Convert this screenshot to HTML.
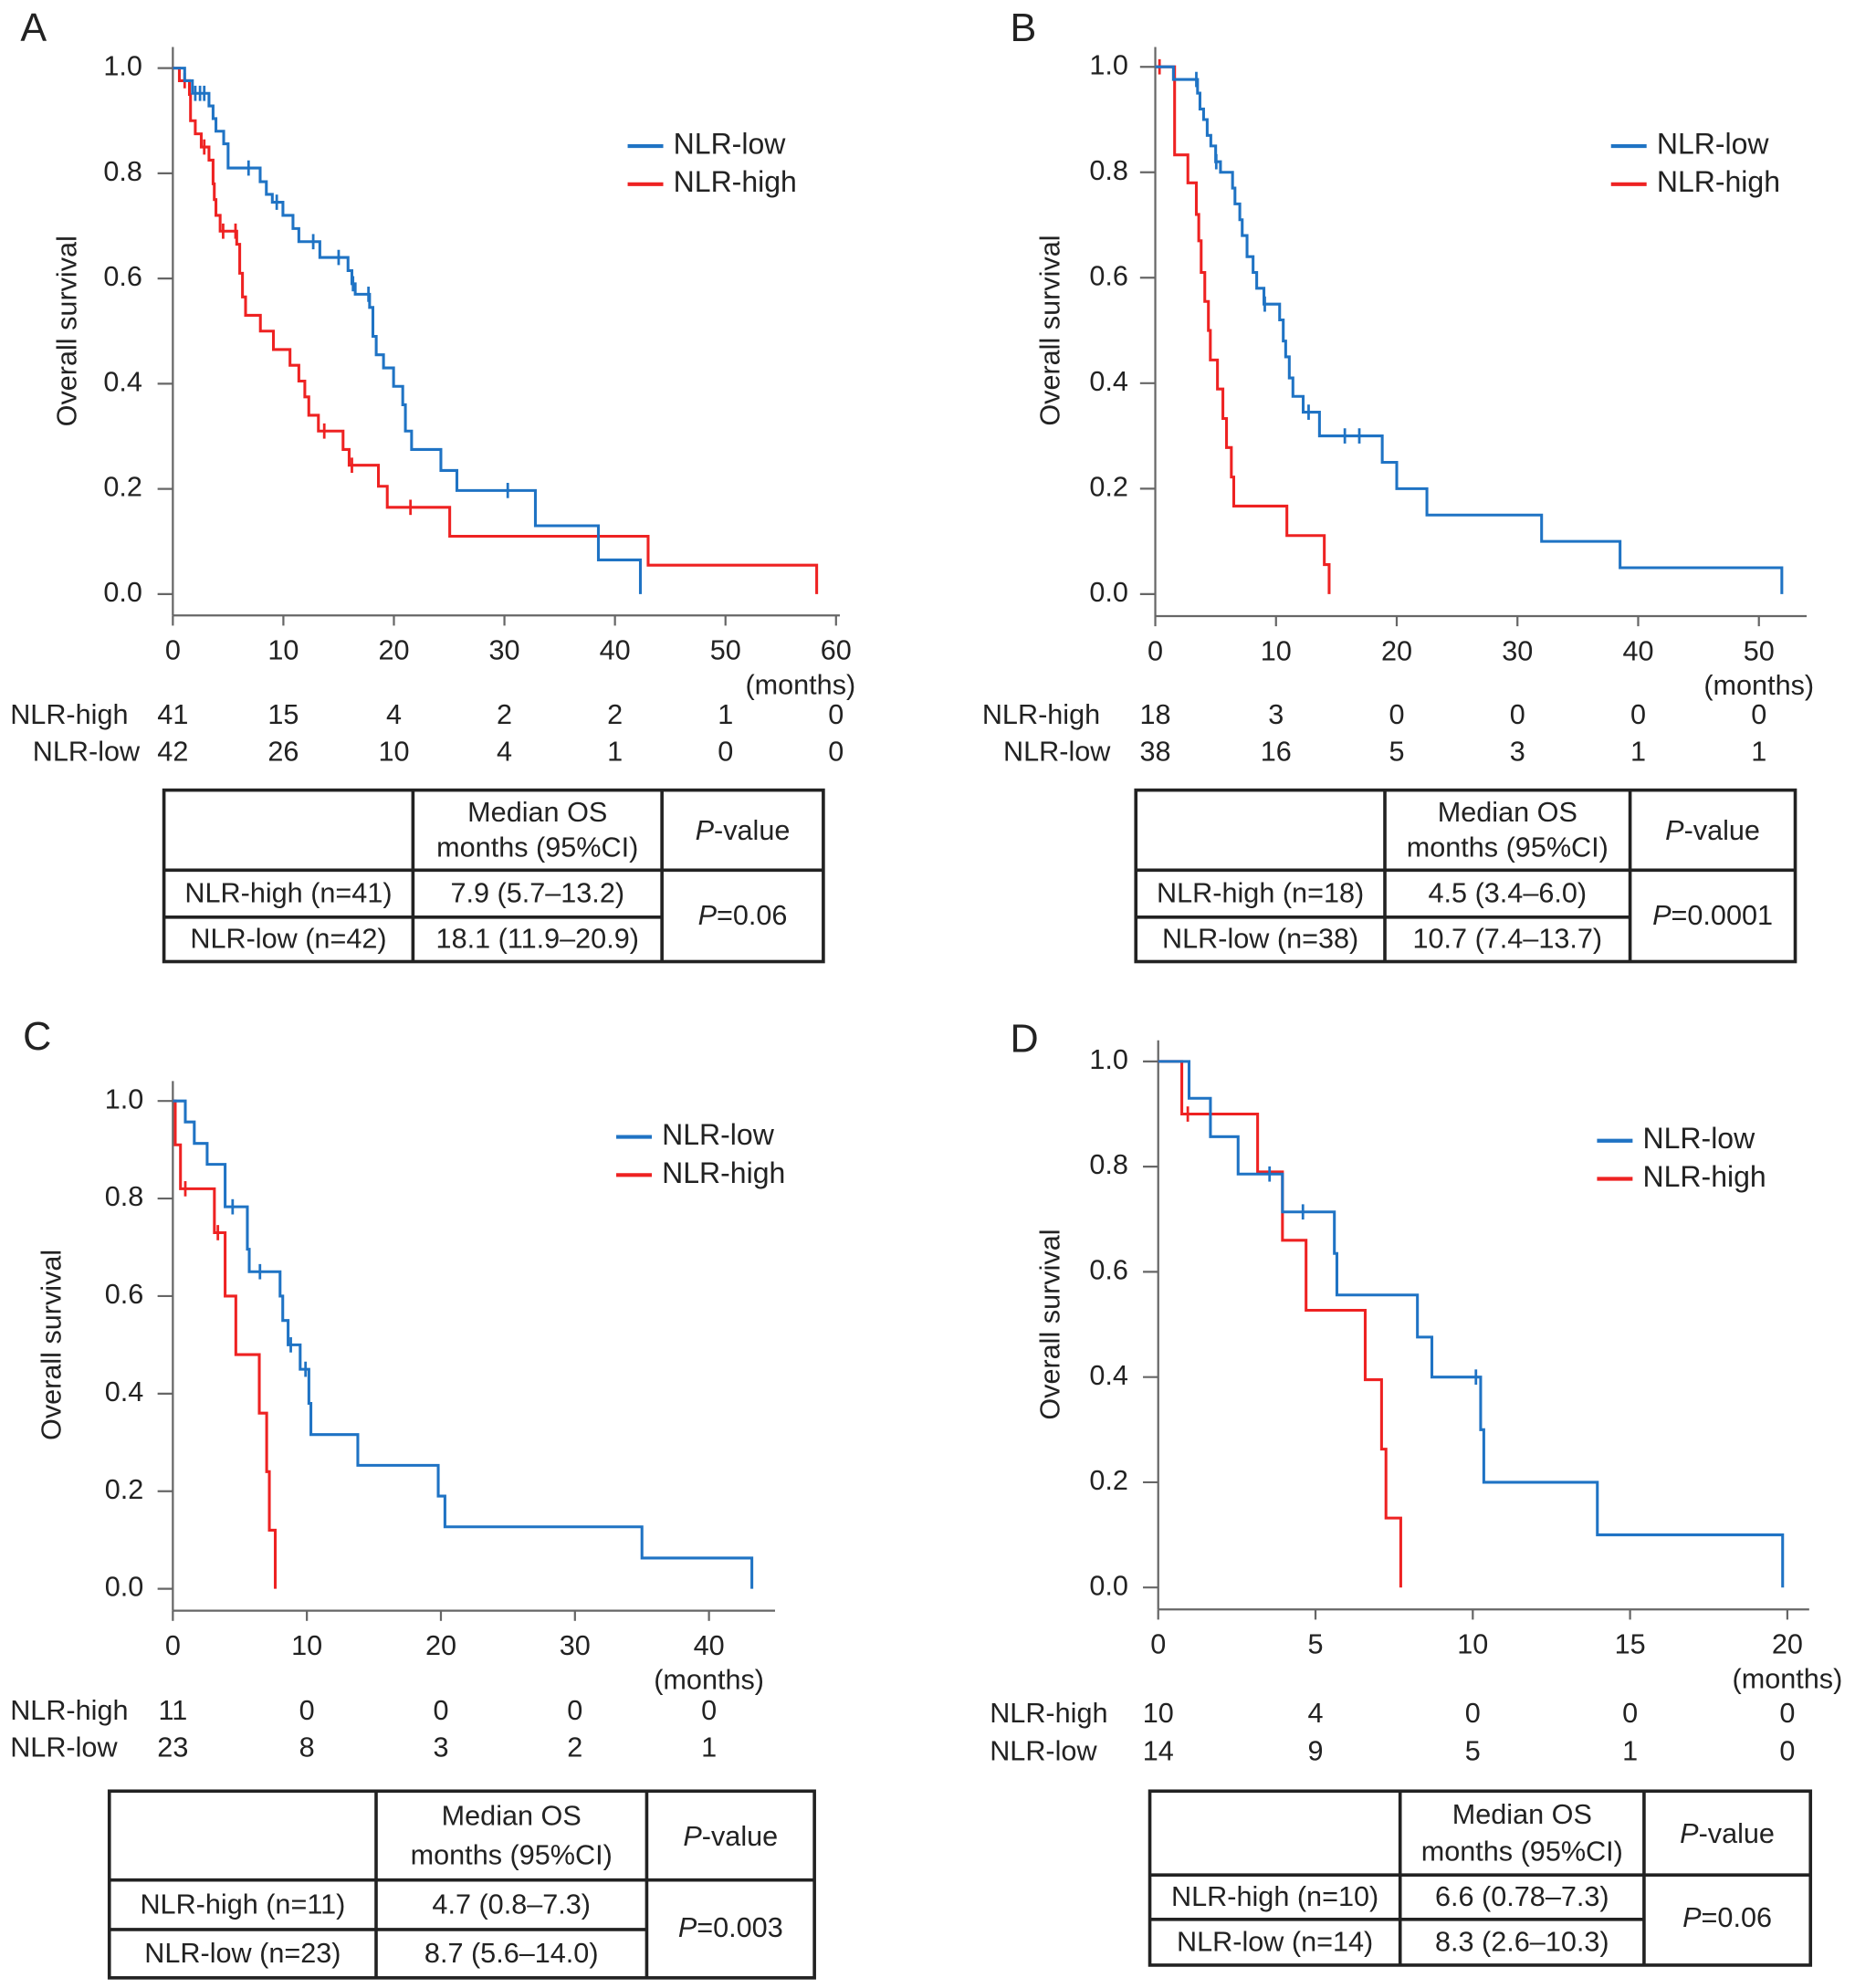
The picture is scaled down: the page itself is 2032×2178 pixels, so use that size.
<!DOCTYPE html>
<html><head><meta charset="utf-8">
<style>
html,body{margin:0;padding:0;background:#fff;}
svg{display:block;}
text{font-family:"Liberation Sans",Arial,sans-serif;fill:#222;}
</style></head>
<body>
<svg id="fig" xmlns="http://www.w3.org/2000/svg" width="2032" height="2178" viewBox="0 0 1460 1565"></svg>
<script>
// ---------- Panel A data ----------
const aLowT  = [1.07,1.77,3.27,3.64,3.9,4.6,5.0,7.9,8.46,9.0,9.96,10.87,11.4,13.3,15.85,16.2,16.5,17.8,18.1,18.4,19.06,19.97,20.8,21.04,21.6,24.25,25.7,32.8,38.5,42.3];
const aLowS  = [0.976,0.952,0.928,0.904,0.88,0.856,0.81,0.784,0.76,0.745,0.72,0.695,0.67,0.64,0.615,0.59,0.57,0.545,0.49,0.455,0.43,0.395,0.36,0.31,0.275,0.235,0.197,0.13,0.065,0];
const aLowC  = [2.03,2.46,2.84,6.85,9.4,12.7,15.0,16.3,17.7,30.3];
const aHighT = [0.59,1.5,1.6,2.03,2.57,3.27,3.64,3.75,3.9,4.28,5.78,6.05,6.3,6.58,7.92,9.1,10.6,11.4,11.94,12.3,13.17,15.4,15.95,18.6,19.4,25.05,43.0,58.25];
const aHighS = [0.976,0.95,0.9,0.875,0.85,0.825,0.78,0.75,0.72,0.69,0.665,0.61,0.565,0.53,0.5,0.465,0.435,0.405,0.375,0.34,0.31,0.275,0.245,0.205,0.165,0.11,0.055,0];
const aHighC = [1.07,2.84,4.55,5.67,13.7,16.2,21.5];
const aTicks = [0,10,20,30,40,50,60];
const aRiskHigh = ["41","15","4","2","2","1","0"];
const aRiskLow  = ["42","26","10","4","1","0","0"];
const aTable = ["NLR-high (n=41)","7.9 (5.7–13.2)","NLR-low (n=42)","18.1 (11.9–20.9)","0.06"];
// ---------- Panel B data ----------
const bLowT  = [1.5,3.5,3.7,4.0,4.3,4.6,5.0,5.4,6.4,6.6,7.0,7.2,7.6,8.1,8.4,9.0,10.3,10.6,10.8,11.1,11.4,12.25,13.6,18.8,20.0,22.5,32.0,38.5,51.9];
const bLowS  = [0.976,0.95,0.92,0.90,0.87,0.85,0.82,0.80,0.77,0.74,0.71,0.68,0.64,0.61,0.58,0.55,0.52,0.48,0.45,0.41,0.375,0.345,0.30,0.25,0.20,0.15,0.10,0.05,0];
const bLowC  = [3.4,5.05,9.07,12.7,15.7,16.9];
const bHighT = [1.6,2.7,3.4,3.6,3.8,4.1,4.4,4.56,5.15,5.6,5.9,6.3,6.5,10.9,14.0,14.4];
const bHighS = [0.833,0.78,0.72,0.67,0.61,0.555,0.50,0.444,0.389,0.333,0.278,0.222,0.167,0.111,0.056,0];
const bHighC = [0.35];
const bTicks = [0,10,20,30,40,50];
const bRiskHigh = ["18","3","0","0","0","0"];
const bRiskLow  = ["38","16","5","3","1","1"];
const bTable = ["NLR-high (n=18)","4.5 (3.4–6.0)","NLR-low (n=38)","10.7 (7.4–13.7)","0.0001"];
// ---------- Panel C data ----------
const cLowT  = [0.93,1.6,2.56,3.9,5.56,5.7,8.0,8.2,8.6,9.5,10.15,10.3,13.8,19.8,20.3,35.0,43.2];
const cLowS  = [0.957,0.913,0.87,0.783,0.696,0.65,0.60,0.55,0.50,0.45,0.38,0.316,0.253,0.19,0.127,0.063,0];
const cLowC  = [4.46,6.5,8.8,9.9];
const cHighT = [0.18,0.57,3.1,3.9,4.7,6.45,7.0,7.2,7.64];
const cHighS = [0.91,0.82,0.73,0.60,0.48,0.36,0.24,0.12,0];
const cHighC = [0.93,3.36];
const cTicks = [0,10,20,30,40];
const cRiskHigh = ["11","0","0","0","0"];
const cRiskLow  = ["23","8","3","2","1"];
const cTable = ["NLR-high (n=11)","4.7 (0.8–7.3)","NLR-low (n=23)","8.7 (5.6–14.0)","0.003"];
// ---------- Panel D data ----------
const dLowT  = [0.98,1.66,2.54,3.95,5.6,5.68,8.24,8.7,10.25,10.35,13.96,19.85];
const dLowS  = [0.93,0.857,0.786,0.714,0.635,0.556,0.476,0.40,0.30,0.20,0.10,0];
const dLowC  = [3.54,4.6,10.1];
const dHighT = [0.75,3.16,3.95,4.7,6.58,7.1,7.24,7.71];
const dHighS = [0.90,0.79,0.66,0.527,0.395,0.263,0.132,0];
const dHighC = [0.94];
const dTicks = [0,5,10,15,20];
const dRiskHigh = ["10","4","0","0","0"];
const dRiskLow  = ["14","9","5","1","0"];
const dTable = ["NLR-high (n=10)","6.6 (0.78–7.3)","NLR-low (n=14)","8.3 (2.6–10.3)","0.06"];
const yTicks = [0,0.2,0.4,0.6,0.8,1.0];

const NS="http://www.w3.org/2000/svg";
const svg=document.getElementById('fig');
const BLUE="#1f73c4", RED="#ee2222";
function mk(tag,attrs,parent,txt){const e=document.createElementNS(NS,tag);for(const k in attrs)e.setAttribute(k,attrs[k]);if(txt!==undefined)e.textContent=txt;(parent||svg).appendChild(e);return e;}
function stepAt(T,S,t){let s=1;for(let i=0;i<T.length;i++){if(T[i]<=t)s=S[i];}return s;}

function panel(p){
  const g=mk('g',{});
  
  
  const xs=t=>p.x0+(t-p.ticks[0])*(p.x1-p.x0)/(p.ticks[p.ticks.length-1]-p.ticks[0]);
  const ys=s=>p.y0+(1-s)*(p.yZero-p.y0);
  const L=mk('text',{x:p.lx,y:p.ly,'font-size':31,'dominant-baseline':'middle'},g,p.id);
  
  const ya=mk('line',{x1:p.x0,y1:p.axTop,x2:p.x0,y2:p.axY,stroke:'#666','stroke-width':1.6},g);
  
  const xa=mk('line',{x1:p.x0,y1:p.axY,x2:p.axRight,y2:p.axY,stroke:'#666','stroke-width':1.6},g);
  
  yTicks.forEach(v=>{
    mk('line',{x1:p.x0-12,y1:ys(v),x2:p.x0,y2:ys(v),stroke:'#666','stroke-width':1.6},g);
    const t=mk('text',{x:p.yLabX,y:ys(v),'font-size':22,'text-anchor':'end','dominant-baseline':'middle'},g,v.toFixed(1));
    
  });
  p.ticks.forEach((v,i)=>{
    mk('line',{x1:xs(v),y1:p.axY,x2:xs(v),y2:p.axY+8,stroke:'#666','stroke-width':1.6},g);
    const t=mk('text',{x:xs(v),y:p.axY+29,'font-size':22,'text-anchor':'middle','dominant-baseline':'middle'},g,String(v));
    
    const r1=mk('text',{x:xs(v),y:p.r1,'font-size':22,'text-anchor':'middle','dominant-baseline':'middle'},g,p.riskHigh[i]);
    
    const r2=mk('text',{x:xs(v),y:p.r2,'font-size':22,'text-anchor':'middle','dominant-baseline':'middle'},g,p.riskLow[i]);
    
  });
  const mo=mk('text',{x:xs(p.ticks[p.ticks.length-1])-(p.moShift||0),y:p.axY+56,'font-size':22,'text-anchor':'middle','dominant-baseline':'middle'},g,'(months)');
  
  const rl1=mk('text',{x:p.rlX,y:p.r1,'font-size':22,'text-anchor':p.rlAnchor1,'dominant-baseline':'middle'},g,'NLR-high');
  
  const rl2=mk('text',{x:p.rlX2,y:p.r2,'font-size':22,'text-anchor':p.rlAnchor2,'dominant-baseline':'middle'},g,'NLR-low');
  
  const yt=mk('text',{x:p.ytX,y:(p.y0+p.yZero)/2,'font-size':22,'text-anchor':'middle','dominant-baseline':'middle',transform:`rotate(-90 ${p.ytX} ${(p.y0+p.yZero)/2})`},g,'Overall survival');
  
  function curve(T,S,C,col,name){
    let d=`M${xs(0)},${ys(1)}`;
    for(let i=0;i<T.length;i++){d+=` H${xs(T[i])} V${ys(S[i])}`;}
    const pth=mk('path',{d:d,fill:'none',stroke:col,'stroke-width':2.2},g);
    
    C.forEach(c=>{const s=stepAt(T,S,c);const m=mk('line',{x1:xs(c),y1:ys(s)-6,x2:xs(c),y2:ys(s)+6,stroke:col,'stroke-width':2},g);
      });
  }
  curve(p.highT,p.highS,p.highC,RED,'nlr-high');
  curve(p.lowT,p.lowS,p.lowC,BLUE,'nlr-low');
  [['NLR-low',BLUE,0],['NLR-high',RED,30]].forEach(([lab,col,dy])=>{
    const lg=mk('g',{},g);
    mk('line',{x1:p.legX,y1:p.legY+dy,x2:p.legX+28,y2:p.legY+dy,stroke:col,'stroke-width':3},lg);
    mk('text',{x:p.legX+36,y:p.legY+dy,'font-size':23,'dominant-baseline':'middle'},lg,lab);
  });
  const tb=p.tb, tg=mk('g',{},g);
  
  mk('rect',{x:tb.x1,y:tb.y1,width:tb.x2-tb.x1,height:tb.y2-tb.y1,fill:'none',stroke:'#222','stroke-width':2.6},tg);
  mk('line',{x1:tb.c1,y1:tb.y1,x2:tb.c1,y2:tb.y2,stroke:'#222','stroke-width':2.6},tg);
  mk('line',{x1:tb.c2,y1:tb.y1,x2:tb.c2,y2:tb.y2,stroke:'#222','stroke-width':2.6},tg);
  mk('line',{x1:tb.x1,y1:tb.r1,x2:tb.x2,y2:tb.r1,stroke:'#222','stroke-width':2.6},tg);
  mk('line',{x1:tb.x1,y1:tb.r2,x2:tb.c2,y2:tb.r2,stroke:'#222','stroke-width':2.6},tg);
  const cx1=(tb.x1+tb.c1)/2, cx2=(tb.c1+tb.c2)/2, cx3=(tb.c2+tb.x2)/2;
  const fs=22;
  mk('text',{x:cx2,y:tb.y1+(tb.r1-tb.y1)*0.3,'font-size':fs,'text-anchor':'middle','dominant-baseline':'middle'},tg,'Median OS');
  mk('text',{x:cx2,y:tb.y1+(tb.r1-tb.y1)*0.74,'font-size':fs,'text-anchor':'middle','dominant-baseline':'middle'},tg,'months (95%CI)');
  const pv=mk('text',{x:cx3,y:(tb.y1+tb.r1)/2+2,'font-size':fs,'text-anchor':'middle','dominant-baseline':'middle'},tg);
  mk('tspan',{'font-style':'italic'},pv,'P');mk('tspan',{},pv,'-value');
  const ym1=(tb.r1+tb.r2)/2+1, ym2=(tb.r2+tb.y2)/2+1;
  mk('text',{x:cx1,y:ym1,'font-size':fs,'text-anchor':'middle','dominant-baseline':'middle'},tg,p.table[0]);
  mk('text',{x:cx2,y:ym1,'font-size':fs,'text-anchor':'middle','dominant-baseline':'middle'},tg,p.table[1]);
  mk('text',{x:cx1,y:ym2,'font-size':fs,'text-anchor':'middle','dominant-baseline':'middle'},tg,p.table[2]);
  mk('text',{x:cx2,y:ym2,'font-size':fs,'text-anchor':'middle','dominant-baseline':'middle'},tg,p.table[3]);
  const pp=mk('text',{x:cx3,y:tb.r2,'font-size':fs,'text-anchor':'middle','dominant-baseline':'middle'},tg);
  mk('tspan',{'font-style':'italic'},pp,'P');mk('tspan',{},pp,'='+p.table[4]);
}

panel({id:'A',lx:16,ly:24,x0:136,x1:658,y0:53.6,yZero:467.7,axTop:37,axY:484.5,axRight:661,yLabX:112,ytX:54,
  ticks:aTicks,riskHigh:aRiskHigh,riskLow:aRiskLow,r1:564,r2:593,rlX:8,rlAnchor1:'start',rlX2:110,rlAnchor2:'end',moShift:28,
  legX:494,legY:115,lowT:aLowT,lowS:aLowS,lowC:aLowC,highT:aHighT,highS:aHighS,highC:aHighC,table:aTable,
  tb:{x1:129,y1:622,x2:648,y2:757,c1:325,c2:521,r1:685,r2:722}});
panel({id:'B',lx:795,ly:24,x0:909.3,x1:1384.4,y0:52.6,yZero:467.7,axTop:37,axY:485,axRight:1422,yLabX:888,ytX:828,
  ticks:bTicks,riskHigh:bRiskHigh,riskLow:bRiskLow,r1:564,r2:593,rlX:773,rlAnchor1:'start',rlX2:874,rlAnchor2:'end',moShift:0,
  legX:1268,legY:115,lowT:bLowT,lowS:bLowS,lowC:bLowC,highT:bHighT,highS:bHighS,highC:bHighC,table:bTable,
  tb:{x1:894,y1:622,x2:1413,y2:757,c1:1090,c2:1283,r1:685,r2:722}});
panel({id:'C',lx:18,ly:818,x0:136,x1:558,y0:866.7,yZero:1250.7,axTop:851,axY:1268,axRight:610,yLabX:113,ytX:42,
  ticks:cTicks,riskHigh:cRiskHigh,riskLow:cRiskLow,r1:1348,r2:1377,rlX:8,rlAnchor1:'start',rlX2:8,rlAnchor2:'start',moShift:0,
  legX:485,legY:895,lowT:cLowT,lowS:cLowS,lowC:cLowC,highT:cHighT,highS:cHighS,highC:cHighC,table:cTable,
  tb:{x1:86,y1:1410,x2:641,y2:1557,c1:296,c2:509,r1:1480,r2:1519}});
panel({id:'D',lx:795,ly:820,x0:911.6,x1:1406.8,y0:835.6,yZero:1249.7,axTop:819,axY:1267,axRight:1424,yLabX:888,ytX:828,
  ticks:dTicks,riskHigh:dRiskHigh,riskLow:dRiskLow,r1:1350,r2:1380,rlX:779,rlAnchor1:'start',rlX2:779,rlAnchor2:'start',moShift:0,
  legX:1257,legY:898,lowT:dLowT,lowS:dLowS,lowC:dLowC,highT:dHighT,highS:dHighS,highC:dHighC,table:dTable,
  tb:{x1:905,y1:1410,x2:1425,y2:1547,c1:1102,c2:1294,r1:1476,r2:1511}});
</script>
</body></html>
